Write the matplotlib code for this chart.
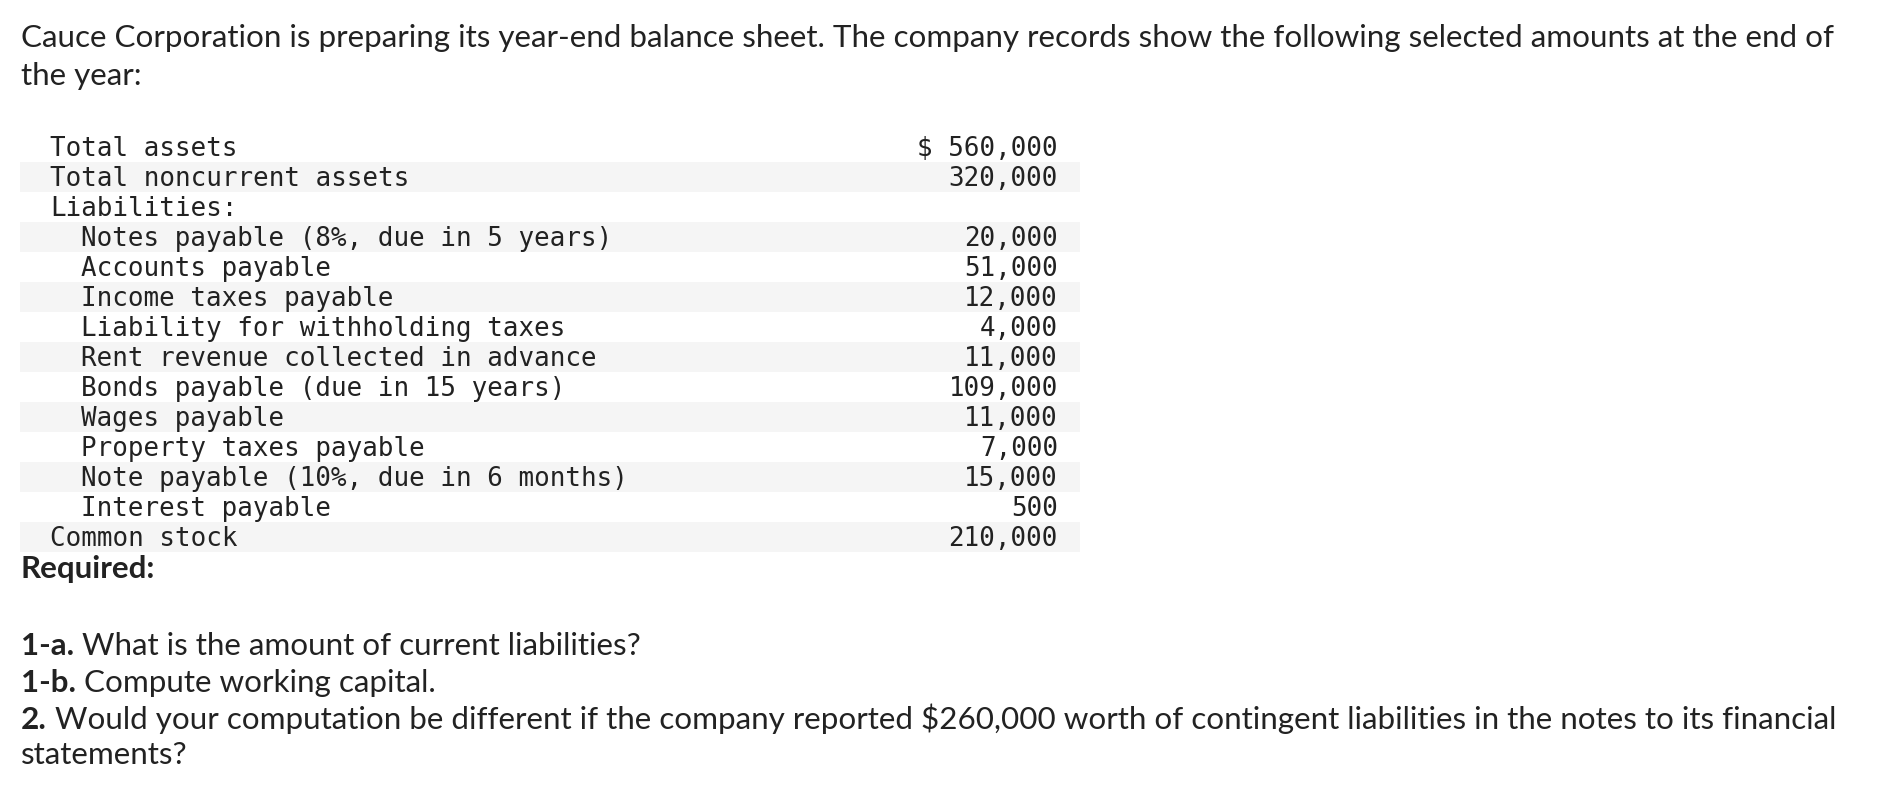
import matplotlib
matplotlib.use("Agg")
import matplotlib.pyplot as plt

# ---------------- data ----------------
intro_lines = [
    "Cauce Corporation is preparing its year-end balance sheet. The company records show the following selected amounts at the end of",
    "the year:",
]
row_labels = [
    "Total assets",
    "Total noncurrent assets",
    "Liabilities:",
    "Notes payable (8%, due in 5 years)",
    "Accounts payable",
    "Income taxes payable",
    "Liability for withholding taxes",
    "Rent revenue collected in advance",
    "Bonds payable (due in 15 years)",
    "Wages payable",
    "Property taxes payable",
    "Note payable (10%, due in 6 months)",
    "Interest payable",
    "Common stock",
]
row_indent = [0, 0, 0, 1, 1, 1, 1, 1, 1, 1, 1, 1, 1, 0]
row_values = [560000, 320000, None, 20000, 51000, 12000, 4000, 11000,
              109000, 11000, 7000, 15000, 500, 210000]
required_label = "Required:"
question_bold = ["1-a.", "1-b.", "2.", ""]
question_text = [
    " What is the amount of current liabilities?",
    " Compute working capital.",
    " Would your computation be different if the company reported $260,000 worth of contingent liabilities in the notes to its financial",
    "statements?",
]

# ---------------- layout / style ----------------
W, H, DPI = 1896, 786, 100
TEXT = "#222222"
SHADE = "#f5f5f5"
SANS = ["Lato", "DejaVu Sans"]
MONO = ["DejaVu Sans Mono"]
left_x = 21
title_right = 1841
title_base = [47.5, 84.5]
table_top = 132
row_h = 30
base_off = 23.5
table_left, table_right = 20, 1080
label_x0, indent_step = 50, 31
num_right = 1058
required_base = 578
q_base = [655, 692, 729, 764]
mono_size = 18.6

fig = plt.figure(figsize=(W / DPI, H / DPI), dpi=DPI)
fig.patch.set_facecolor("white")
ax = fig.add_axes([0, 0, 1, 1])
ax.set_xlim(0, W)
ax.set_ylim(H, 0)
ax.axis("off")
renderer = fig.canvas.get_renderer()

# fit the sans font size to the first intro line width
probe = ax.text(left_x, title_base[0], intro_lines[0], family=SANS, fontsize=20)
w = probe.get_window_extent(renderer).width
sans_size = 20 * (title_right - left_x) / w
probe.remove()

# intro text
for line, yb in zip(intro_lines, title_base):
    ax.text(left_x, yb, line, family=SANS, fontsize=sans_size, color=TEXT,
            va="baseline", ha="left")

# table shading rows
for i in range(len(row_labels)):
    if i % 2 == 1:
        ax.barh(table_top + i * row_h + row_h / 2, table_right - table_left,
                left=table_left, height=row_h, color=SHADE, linewidth=0)

# table text
for i, (lab, ind, val) in enumerate(zip(row_labels, row_indent, row_values)):
    yb = table_top + i * row_h + base_off
    ax.text(label_x0 + ind * indent_step, yb, lab, family=MONO,
            fontsize=mono_size, color=TEXT, va="baseline", ha="left")
    if val is not None:
        s = f"{val:,}"
        if i == 0:
            s = "$ " + s
        ax.text(num_right, yb, s, family=MONO, fontsize=mono_size,
                color=TEXT, va="baseline", ha="right")

# Required
ax.text(left_x, required_base, required_label, family=SANS, fontsize=sans_size,
        fontweight="bold", color=TEXT, va="baseline", ha="left")

# questions
for b, t, yb in zip(question_bold, question_text, q_base):
    if b:
        bt = ax.text(left_x, yb, b, family=SANS, fontsize=sans_size,
                     fontweight="bold", color=TEXT, va="baseline", ha="left")
        ax.annotate(t, xy=(1, 0), xycoords=bt, family=SANS, fontsize=sans_size,
                    color=TEXT, va="bottom", ha="left")
    else:
        ax.text(left_x, yb, t, family=SANS, fontsize=sans_size, color=TEXT,
                va="baseline", ha="left")

fig.savefig("out.png", dpi=DPI, facecolor="white")
